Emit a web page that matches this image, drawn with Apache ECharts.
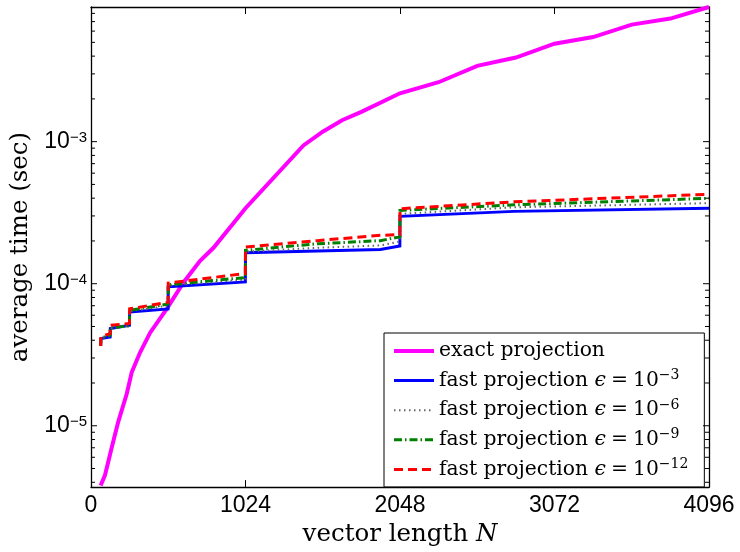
<!DOCTYPE html>
<html>
<head>
<meta charset="utf-8">
<script src="https://cdn.jsdelivr.net/npm/echarts@6/dist/echarts.min.js"></script>
<style>
  html, body { margin: 0; padding: 0; background: #fff; }
  #chart { width: 740px; height: 552px; }
</style>
</head>
<body>
<div id="chart"></div>
<script>
// Vector lengths and timings (seconds) for the exact projection
const exactN = [64, 93, 137, 181, 237, 270, 325, 392, 502, 613, 723, 812, 1024, 1408, 1536, 1664, 1792, 2048, 2304, 2560, 2816, 3072, 3328, 3584, 3840, 4096];
const exactTime = [3.8e-6, 4.5e-6, 7.0e-6, 1.07e-5, 1.68e-5, 2.38e-5, 3.28e-5, 4.52e-5, 6.66e-5, 1.02e-4, 1.45e-4, 1.79e-4, 3.4e-4, 9.4e-4, 1.175e-3, 1.415e-3, 1.62e-3, 2.19e-3, 2.62e-3, 3.42e-3, 3.91e-3, 4.89e-3, 5.45e-3, 6.67e-3, 7.35e-3, 8.87e-3];

// Vector lengths for the fast projection runs (steps at powers of two)
const fastN = [64, 66, 127, 128, 255, 256, 511, 512, 1023, 1024, 1500, 1918, 2047, 2048, 2803, 4096];
const fastEps3 = [3.64e-5, 4.11e-5, 4.22e-5, 4.83e-5, 5.10e-5, 6.31e-5, 6.65e-5, 9.5e-5, 1.03e-4, 1.65e-4, 1.70e-4, 1.74e-4, 1.84e-4, 2.98e-4, 3.23e-4, 3.40e-4];
const fastEps6 = [3.64e-5, 4.12e-5, 4.30e-5, 4.85e-5, 5.05e-5, 6.40e-5, 7.00e-5, 9.7e-5, 1.07e-4, 1.68e-4, 1.79e-4, 1.86e-4, 1.98e-4, 3.10e-4, 3.45e-4, 3.69e-4];
const fastEps9 = [3.64e-5, 4.15e-5, 4.35e-5, 4.90e-5, 5.05e-5, 6.48e-5, 7.20e-5, 9.84e-5, 1.105e-4, 1.72e-4, 1.91e-4, 2.01e-4, 2.14e-4, 3.28e-4, 3.59e-4, 3.99e-4];
const fastEps12 = [3.64e-5, 4.25e-5, 4.45e-5, 5.10e-5, 5.25e-5, 6.65e-5, 7.41e-5, 1.01e-4, 1.18e-4, 1.81e-4, 2.01e-4, 2.19e-4, 2.22e-4, 3.37e-4, 3.77e-4, 4.26e-4];

// Axis ranges and ticks
const xTicks = [0, 1024, 2048, 3072, 4096];
const yMin = 3.7e-6, yMax = 8.87e-3;
const yMajorTicks = [1e-5, 1e-4, 1e-3];
const yMinorTicks = [4e-6, 5e-6, 6e-6, 7e-6, 8e-6, 9e-6,
  2e-5, 3e-5, 4e-5, 5e-5, 6e-5, 7e-5, 8e-5, 9e-5,
  2e-4, 3e-4, 4e-4, 5e-4, 6e-4, 7e-4, 8e-4, 9e-4,
  2e-3, 3e-3, 4e-3, 5e-3, 6e-3, 7e-3, 8e-3];

// Legend entries: series name and exponent of epsilon (null for the exact method)
const seriesNames = ['exact projection', 'fast projection eps 1e-3', 'fast projection eps 1e-6', 'fast projection eps 1e-9', 'fast projection eps 1e-12'];
const epsExponents = [null, '3', '6', '9', '12'];

const SERIF = 'DejaVu Serif';
const SANS = 'Liberation Sans';

// line appearance per series: colour, width, dash pattern
const seriesColors = ['#ff00ff', '#0000ff', '#666666', '#008000', '#ff0000'];
const seriesWidths = [4, 3, 2, 3, 3];
const seriesDash = ['solid', 'solid', [1.5, 3.5], [8, 3, 1.5, 3], [9, 5]];

function pairs(xs, ys) { return xs.map((x, i) => [x, ys[i]]); }

const tickData = yMajorTicks.map(v => [0, v, 6]).concat(yMinorTicks.map(v => [0, v, 4]));

const chart = echarts.init(document.getElementById('chart'), null, { renderer: 'canvas' });

function lineSeries(i, data) {
  return {
    name: seriesNames[i], type: 'line', data, symbol: 'none', showSymbol: false,
    xAxisIndex: 0, yAxisIndex: 0, animation: false, silent: true,
    lineStyle: { color: seriesColors[i], width: seriesWidths[i], type: seriesDash[i], cap: 'butt', join: 'miter' },
    itemStyle: { color: seriesColors[i] }
  };
}

chart.setOption({
  animation: false,
  backgroundColor: '#fff',
  grid: { left: 91, right: 31, top: 7, bottom: 59, containLabel: false },
  xAxis: [{
    type: 'value', min: xTicks[0], max: xTicks[xTicks.length - 1], interval: 1024,
    position: 'bottom',
    name: '{t|vector length }{i|N}', nameLocation: 'middle', nameGap: 33,
    nameTextStyle: {
      rich: {
        t: { fontFamily: SERIF, fontSize: 24.5, color: '#000' },
        i: { fontFamily: SERIF, fontSize: 24.5, fontStyle: 'italic', color: '#000' }
      }
    },
    axisLine: { show: true, onZero: false, lineStyle: { color: '#000', width: 1.3 } },
    axisTick: { show: true, inside: true, length: 7, lineStyle: { color: '#000', width: 1 } },
    axisLabel: { show: true, margin: 7, color: '#000', fontFamily: SANS, fontSize: 23, formatter: v => String(v) },
    splitLine: { show: false }
  }, {
    type: 'value', min: xTicks[0], max: xTicks[xTicks.length - 1], interval: 1024,
    position: 'top',
    axisLine: { show: true, onZero: false, lineStyle: { color: '#000', width: 1.3 } },
    axisTick: { show: true, inside: true, length: 7, lineStyle: { color: '#000', width: 1 } },
    axisLabel: { show: false },
    splitLine: { show: false }
  }],
  yAxis: [{
    type: 'log', logBase: 10, min: yMin, max: yMax, position: 'left',
    name: 'average time (sec)', nameLocation: 'middle', nameGap: 53,
    nameTextStyle: { fontFamily: SERIF, fontSize: 24.5, color: '#000' },
    axisLine: { show: true, onZero: false, lineStyle: { color: '#000', width: 1.3 } },
    axisTick: { show: false },
    axisLabel: {
      show: true, margin: 4, showMinLabel: false, showMaxLabel: false,
      formatter: function (v) {
        const e = Math.log10(v);
        const r = Math.round(e);
        if (Math.abs(e - r) > 1e-6) return '';
        return '{b|10}{s|\u2212' + Math.abs(r) + '}';
      },
      rich: {
        b: { fontFamily: SANS, fontSize: 23, lineHeight: 23, color: '#000' },
        s: { fontFamily: SANS, fontSize: 15, lineHeight: 9, verticalAlign: 'top', color: '#000' }
      }
    },
    splitLine: { show: false }
  }, {
    type: 'log', logBase: 10, min: yMin, max: yMax, position: 'right',
    axisLine: { show: true, onZero: false, lineStyle: { color: '#000', width: 1.3 } },
    axisTick: { show: false },
    axisLabel: { show: false },
    splitLine: { show: false }
  }],
  legend: {
    orient: 'vertical', left: 384, top: 333,
    data: seriesNames.map((name, i) => ({
      name,
      lineStyle: { width: seriesWidths[i], type: seriesDash[i], color: seriesColors[i] }
    })),
    selectedMode: false,
    backgroundColor: '#fff', borderColor: '#000', borderWidth: 1, borderRadius: 0,
    padding: [8, 16, 7.5, 8], itemGap: 7.6, itemWidth: 40, itemHeight: 14,
    itemStyle: { opacity: 0, borderWidth: 0 },
    formatter: function (name) {
      const e = epsExponents[seriesNames.indexOf(name)];
      if (e === null) return '{t|' + name + '}';
      return '{t|fast projection }{i|\u03F5}{t|\u2005=\u200510}{s|\u2212' + e + '}';
    },
    textStyle: {
      color: '#000',
      rich: {
        t: { fontFamily: SERIF, fontSize: 20.3, lineHeight: 24, color: '#000' },
        i: { fontFamily: SERIF, fontSize: 20.3, lineHeight: 24, fontStyle: 'italic', color: '#000' },
        s: { fontFamily: SERIF, fontSize: 14, lineHeight: 12, verticalAlign: 'top', color: '#000' }
      }
    }
  },
  series: [
    lineSeries(0, pairs(exactN, exactTime)),
    lineSeries(1, pairs(fastN, fastEps3)),
    lineSeries(2, pairs(fastN, fastEps6)),
    lineSeries(3, pairs(fastN, fastEps9)),
    lineSeries(4, pairs(fastN, fastEps12)),
    {
      // inward log ticks on the left and right frame edges
      type: 'custom', name: 'yticks', silent: true, animation: false,
      xAxisIndex: 0, yAxisIndex: 0, z: 5,
      encode: { x: 0, y: 1 },
      data: tickData,
      renderItem: function (params, api) {
        const v = api.value(1), len = api.value(2);
        const l = api.coord([xTicks[0], v]);
        const r = api.coord([xTicks[xTicks.length - 1], v]);
        return {
          type: 'group',
          children: [
            { type: 'line', shape: { x1: l[0], y1: l[1], x2: l[0] + len, y2: l[1] }, style: { stroke: '#000', lineWidth: 1 } },
            { type: 'line', shape: { x1: r[0] - len, y1: r[1], x2: r[0], y2: r[1] }, style: { stroke: '#000', lineWidth: 1 } }
          ]
        };
      }
    }
  ]
});
</script>
</body>
</html>
